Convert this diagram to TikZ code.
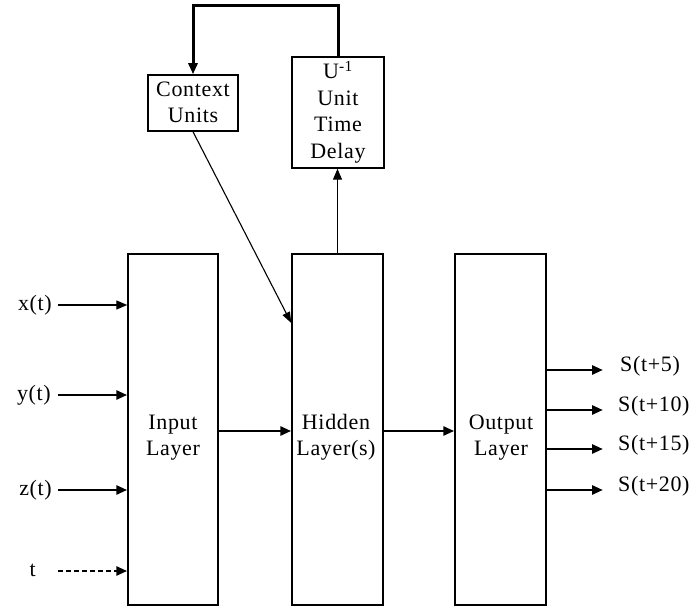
\documentclass[tikz,border=0pt]{standalone}
\usepackage{fontspec}
\setmainfont{Liberation Serif}[LetterSpace=3]
\usetikzlibrary{arrows.meta}
\begin{document}
\begin{tikzpicture}[x=1pt,y=-1pt,
  box/.style={draw,line width=1.5pt,inner sep=0pt},
  txt/.style={inner sep=0pt,anchor=base,font=\fontsize{22}{26}\selectfont},
  thinarrow/.style={line width=1.4pt,-{Triangle[length=11pt,width=9pt]}},
  thickarrow/.style={line width=2.8pt,-{Triangle[length=11pt,width=9pt]}},
  fbline/.style={line width=3pt,-{Triangle[length=11pt,width=9pt]}}]
\useasboundingbox (0,0) rectangle (691,609);
% boxes
\node[box,minimum width=90pt,minimum height=351pt] (inp) at (173,429.5) {};
\node[box,minimum width=91pt,minimum height=351pt] (hid) at (337.5,429.5) {};
\node[box,minimum width=91pt,minimum height=351pt] (outl) at (500.5,429.5) {};
\node[box,minimum width=90pt,minimum height=56pt] (ctx) at (193,103) {};
\node[box,minimum width=92pt,minimum height=111pt] (dly) at (338,112.5) {};
% box texts
\node[txt] (inp1) at (173,430) {Input};
\node[txt] (inp2) at (173,456) {Layer};
\node[txt] (hid1) at (336,430) {Hidden};
\node[txt] (hid2) at (336,456) {Layer(s)};
\node[txt] (out1) at (501,430) {Output};
\node[txt] (out2) at (501,456) {Layer};
\node[txt] (ctx1) at (193,97) {Context};
\node[txt] (ctx2) at (193,123) {Units};
\node[txt] (dly1) at (338,79) {U\textsuperscript{-1}};
\node[txt] (dly2) at (338,106) {Unit};
\node[txt] (dly3) at (338,132) {Time};
\node[txt] (dly4) at (338,159) {Delay};
% input labels
\node[txt,anchor=base east] (lx) at (52,311) {x(t)};
\node[txt,anchor=base east] (ly) at (51,401) {y(t)};
\node[txt,anchor=base east] (lz) at (52,496) {z(t)};
\node[txt,anchor=base east] (lt) at (36,576) {t};
% input arrows
\coordinate (xs) at (58,305);
\coordinate (ys) at (58,395);
\coordinate (zs) at (58,490);
\coordinate (ts) at (58,571);
\draw[thinarrow] (xs) -- (xs -| inp.west);
\draw[thickarrow] (ys) -- (ys -| inp.west);
\draw[thickarrow] (zs) -- (zs -| inp.west);
\draw[thickarrow,dash pattern=on 5pt off 3pt] (ts) -- (ts -| inp.west);
% layer-to-layer
\coordinate (mid) at (0,431);
\draw[thickarrow] (mid -| inp.east) -- (mid -| hid.west);
\draw[thickarrow] (mid -| hid.east) -- (mid -| outl.west);
% outputs
\coordinate (o1) at (603,370);
\coordinate (o2) at (603,410);
\coordinate (o3) at (603,449);
\coordinate (o4) at (603,490);
\draw[thickarrow] (o1 -| outl.east) -- (o1);
\draw[thickarrow] (o2 -| outl.east) -- (o2);
\draw[thickarrow] (o3 -| outl.east) -- (o3);
\draw[thickarrow] (o4 -| outl.east) -- (o4);
\node[txt,anchor=base west] (s1) at (620,372) {S(t+5)};
\node[txt,anchor=base west] (s2) at (618,412) {S(t+10)};
\node[txt,anchor=base west] (s3) at (618,451) {S(t+15)};
\node[txt,anchor=base west] (s4) at (618,492) {S(t+20)};
% recurrent loop
\draw[thinarrow] (hid.north) -- (hid.north |- dly.south);
\coordinate (top) at (265,6);
\draw[fbline] (dly.north) |- (top) -| (ctx.north);
\coordinate (ctxin) at (0,323);
\draw[line width=1.1pt,-{Triangle[length=11pt,width=8pt]}] (ctx.south) -- (ctxin -| hid.west);
\end{tikzpicture}
\end{document}
